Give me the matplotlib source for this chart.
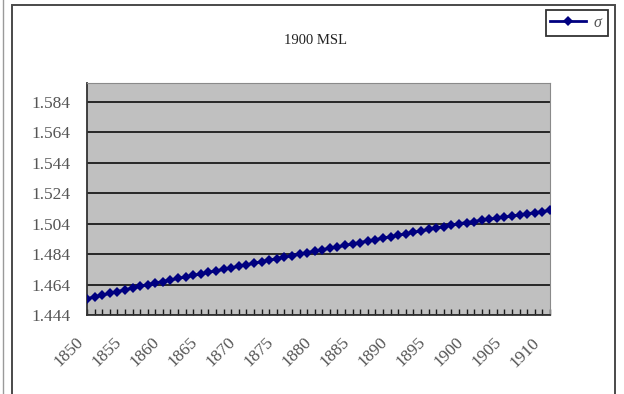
import matplotlib
matplotlib.use("Agg")
import matplotlib.pyplot as plt
from matplotlib.lines import Line2D
from matplotlib.patches import Rectangle
from matplotlib.ticker import FixedLocator, NullFormatter

# Yearly values of sigma, 1850-1911
years = list(range(1850, 1912))
sigma = [
    1.4547, 1.4559, 1.4570, 1.4582, 1.4594, 1.4605, 1.4617, 1.4628, 1.4640,
    1.4650, 1.4660, 1.4670, 1.4680, 1.4690, 1.4700, 1.4710, 1.4720, 1.4730,
    1.4740, 1.4750, 1.4760, 1.4770, 1.4780, 1.4790, 1.4800, 1.4810, 1.4820,
    1.4830, 1.4840,
    1.4850, 1.4859, 1.4869, 1.4878, 1.4888, 1.4897, 1.4907, 1.4916, 1.4926,
    1.4935, 1.4945, 1.4954, 1.4964, 1.4973, 1.4983, 1.4992, 1.5002, 1.5011,
    1.5021, 1.5030, 1.5040,
    1.5047, 1.5054, 1.5062, 1.5069, 1.5076, 1.5083, 1.5090, 1.5098, 1.5105,
    1.5112, 1.5119, 1.5127,
]
y_ticks = [1.444, 1.464, 1.484, 1.504, 1.524, 1.544, 1.564, 1.584]
x_labels = list(range(1850, 1911, 5))
title = "1900 MSL"
series_name = r"$\sigma$"

serif = ["Liberation Serif", "DejaVu Serif"]
plt.rcParams["font.family"] = serif
plt.rcParams["mathtext.fontset"] = "custom"
plt.rcParams["mathtext.it"] = "Liberation Serif:italic"

W, H = 624, 394
fig = plt.figure(figsize=(W / 100, H / 100), dpi=100)
fig.patch.set_facecolor("white")

# chart frame
fig.add_artist(Rectangle((12 / W, -0.05), (615 - 12) / W, 1.05 - 5 / H,
                         transform=fig.transFigure, fill=False,
                         edgecolor="#4a4a4a", linewidth=1.4))
fig.add_artist(Line2D([3 / W, 3 / W], [0, 1], transform=fig.transFigure,
                      color="#9a9a9a", linewidth=1.0))

left, right, top, bottom = 87, 550, 83, 315
ax = fig.add_axes([left / W, 1 - bottom / H, (right - left) / W, (bottom - top) / H])
ax.set_facecolor("#C0C0C0")

ax.plot(years, sigma, color="#000080", linewidth=2.0, marker="D",
        markersize=5.4, markeredgewidth=0, label=series_name, zorder=3)

ax.set_xlim(years[0], years[-1])
ax.set_ylim(1.444, 1.5964)

ax.set_yticks(y_ticks)
ax.set_yticklabels([f"{v:.3f}" for v in y_ticks])
ax.yaxis.grid(True, color="#1a1a1a", linewidth=1.3)
ax.set_axisbelow(True)
ax.tick_params(axis="y", length=0, pad=12, labelsize=12.5, labelcolor="#555555")

ax.xaxis.set_major_locator(FixedLocator(x_labels))
ax.set_xticklabels([str(v) for v in x_labels])
ax.xaxis.set_minor_locator(FixedLocator(years))
ax.xaxis.set_minor_formatter(NullFormatter())
ax.tick_params(axis="x", which="both", direction="in", length=4, width=1.0,
               color="#1a1a1a", labelsize=12.5, labelcolor="#555555", pad=14)
for lbl in ax.get_xticklabels():
    lbl.set_rotation(45)
    lbl.set_ha("right")
    lbl.set_va("top")

ax.spines["left"].set_color("#333333")
ax.spines["bottom"].set_color("#333333")
ax.spines["left"].set_linewidth(1.3)
ax.spines["bottom"].set_linewidth(1.3)
ax.spines["top"].set_color("#8a8a8a")
ax.spines["right"].set_color("#8a8a8a")

fig.text(315 / W, 1 - 40 / H, title, ha="center", va="center",
         fontsize=10.5, color="#222222")

leg = fig.legend(loc="upper right", bbox_to_anchor=(608 / W, 1 - 10 / H),
                 frameon=True, fancybox=False, handlelength=2.2,
                 handletextpad=0.45, borderpad=0.3, borderaxespad=0,
                 prop={"size": 11.5})
leg.get_frame().set_edgecolor("black")
leg.get_frame().set_linewidth(1.3)
for t in leg.get_texts():
    t.set_color("#555555")

fig.savefig("out.png", dpi=100, facecolor="white")
